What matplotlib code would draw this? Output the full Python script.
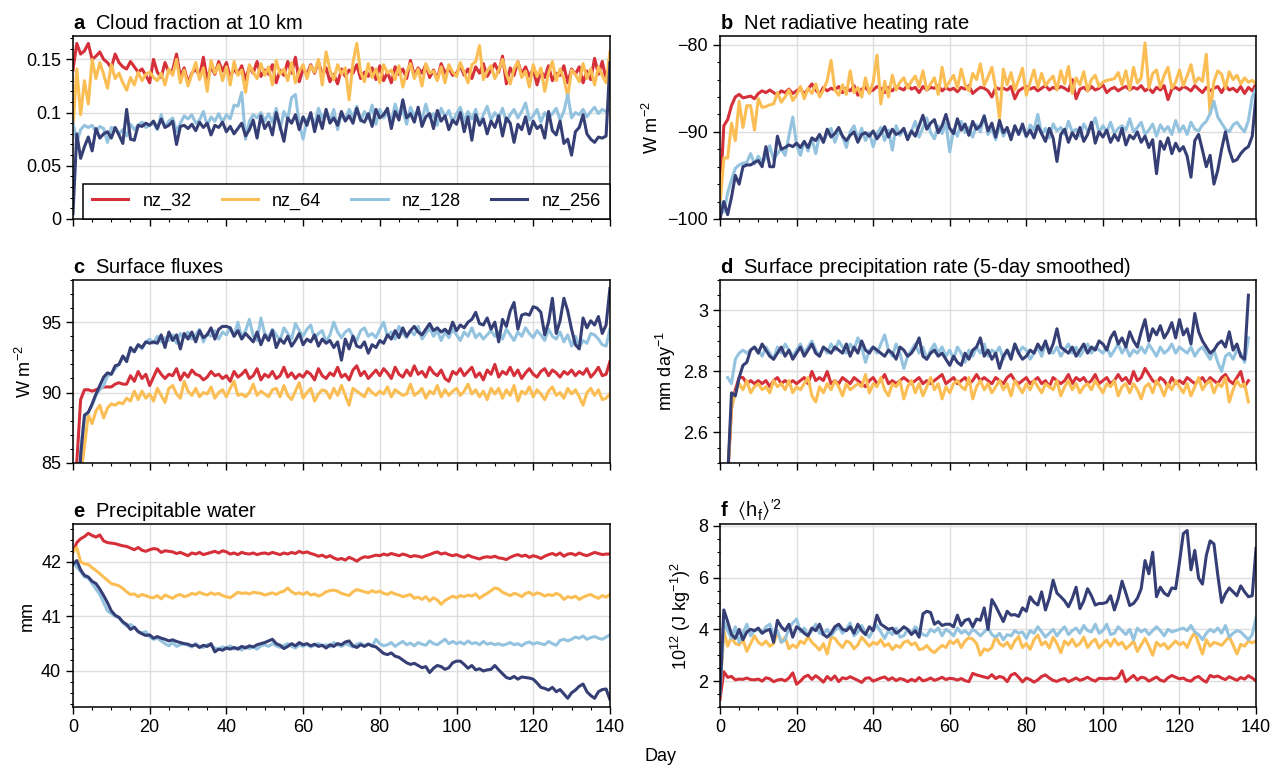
import numpy as np
import matplotlib
matplotlib.use('Agg')
import matplotlib.pyplot as plt
from matplotlib.ticker import MultipleLocator, AutoMinorLocator, FuncFormatter

plt.rcParams['font.family'] = ['Liberation Sans', 'DejaVu Sans']
plt.rcParams['mathtext.fontset'] = 'custom'
plt.rcParams['mathtext.rm'] = 'Liberation Sans'
plt.rcParams['mathtext.it'] = 'Liberation Sans:italic'
plt.rcParams['mathtext.bf'] = 'Liberation Sans:bold'
plt.rcParams['mathtext.fallback'] = 'stixsans'
plt.rcParams['font.size'] = 13

# x axes (days); panel d is a 5-day running mean so it loses two days at each end
days = np.arange(0, 141)
days_smooth = np.arange(2, 139)

labels = ['nz_32', 'nz_64', 'nz_128', 'nz_256']
colors = ['#d5303a', '#fbbe55', '#94c3df', '#353f75']

# a: cloud fraction at 10 km (x 1e-3)
cloud_32 = [140,165,155,158,165,150,153,157,150,147, 142,155,147,143,141,148,143,138,141,135,
            128,150,138,133,147,138,140,155,134,142, 128,137,141,134,152,131,143,136,148,139,
            147,133,141,136,144,131,143,137,148,134, 140,136,145,128,140,135,148,137,152,129,
            141,136,145,137,148,135,142,129,136,127, 141,134,140,137,145,132,138,134,142,131,
            144,130,138,128,143,136,141,132,149,135, 142,137,145,133,140,131,146,137,142,135,
            137,144,135,141,132,143,137,146,134,140, 146,138,153,127,142,135,148,136,143,134,
            141,126,139,133,144,130,137,135,144,128, 141,136,143,128,139,131,151,136,148,131, 141]
cloud_64 = [85,141,98,130,108,150,132,147,136,123, 145,132,137,128,121,133,126,138,130,136,
            138,133,130,137,126,141,135,150,128,140, 125,136,147,131,142,120,149,137,145,130,
            143,126,148,135,140,119,145,138,132,146, 135,143,126,149,136,141,130,147,128,139,
            145,132,144,138,150,126,157,140,131,145, 136,142,112,147,165,138,129,146,133,141,
            128,145,137,140,131,144,124,138,146,132, 141,125,146,137,139,130,143,128,145,138,
            134,147,138,128,145,148,163,131,139,144, 132,140,150,136,127,141,148,133,139,124,
            145,134,142,120,137,148,130,141,132,115, 140,136,129,146,132,141,126,143,135,128, 157]
cloud_128 = [91,72,84,88,86,88,82,87,85,72, 86,85,80,84,78,89,84,88,91,86,
             88,90,84,98,86,92,95,82,90,97, 94,98,90,93,101,88,96,92,99,91,
             98,94,107,106,119,75,92,98,95,100, 92,99,91,104,84,101,94,114,117,89,
             75,93,98,88,104,95,100,92,103,84, 99,93,103,96,106,92,101,94,107,89,
             103,95,100,91,108,96,102,89,105,97, 101,93,108,95,99,88,104,96,102,91,
             99,105,92,101,94,103,89,98,106,93, 100,95,104,91,98,103,95,101,109,93,
             97,103,91,100,95,99,104,93,101,117, 95,100,98,103,96,101,105,99,103,101, 103]
cloud_256 = [5,80,57,68,77,64,85,76,80,82, 76,86,79,71,103,75,74,88,87,90,
             88,92,85,94,86,88,92,70,87,88, 85,89,83,91,86,90,79,88,86,91,
             82,87,80,85,90,78,84,93,76,97, 85,91,79,100,87,73,95,90,98,84,
             96,88,100,82,97,85,103,90,95,88, 101,92,97,90,104,93,91,99,87,103,
             95,98,104,85,101,93,112,95,99,91, 105,87,96,99,85,102,92,97,84,93,
             89,100,82,96,74,98,88,94,80,92, 86,97,78,95,90,72,89,84,96,80,
             92,85,88,76,101,83,79,92,71,75, 60,82,86,98,80,75,72,77,76,78, 147]

# b: net radiative heating rate (x 0.1 W m-2)
rad_32 = [-975,-893,-886,-870,-860,-857,-861,-860,-859,-862, -856,-853,-855,-852,-855,-858,-853,-855,-851,-856,
          -853,-850,-857,-851,-845,-852,-857,-849,-853,-850, -852,-848,-855,-850,-853,-847,-858,-851,-849,-854,
          -852,-848,-850,-855,-849,-853,-848,-850,-852,-846, -851,-849,-855,-848,-852,-849,-850,-847,-853,-849,
          -852,-850,-854,-849,-851,-847,-856,-852,-849,-850, -853,-860,-849,-851,-850,-852,-848,-862,-853,-850,
          -848,-851,-849,-853,-850,-847,-852,-849,-851,-848, -850,-853,-840,-862,-851,-849,-853,-848,-852,-850,
          -846,-855,-851,-849,-853,-850,-848,-852,-849,-851, -847,-853,-850,-855,-849,-852,-847,-863,-851,-849,
          -852,-848,-850,-853,-847,-851,-855,-849,-853,-850, -848,-855,-847,-852,-850,-854,-848,-856,-849,-853, -845]
rad_64 = [-985,-930,-930,-890,-910,-865,-895,-870,-870,-898, -862,-872,-871,-869,-868,-855,-866,-860,-852,-864,
          -858,-848,-862,-850,-856,-845,-860,-852,-841,-818, -852,-858,-846,-857,-830,-855,-849,-860,-838,-856,
          -843,-812,-868,-842,-860,-835,-852,-843,-838,-850, -842,-836,-848,-830,-852,-845,-838,-857,-826,-849,
          -842,-835,-850,-828,-846,-853,-833,-840,-822,-847, -837,-826,-850,-885,-828,-846,-832,-852,-840,-827,
          -858,-843,-829,-849,-833,-847,-841,-836,-852,-830, -845,-825,-856,-838,-846,-831,-853,-840,-835,-848,
          -843,-841,-840,-839,-832,-846,-830,-852,-826,-844, -838,-798,-850,-833,-829,-849,-835,-826,-850,-843,
          -829,-847,-836,-823,-844,-838,-842,-811,-880,-842, -830,-834,-850,-831,-840,-835,-845,-838,-843,-841, -845]
rad_128 = [-980,-992,-970,-955,-942,-938,-936,-935,-925,-937, -928,-935,-930,-916,-932,-925,-919,-927,-905,-883,
           -915,-927,-911,-922,-908,-925,-903,-912,-902,-896, -912,-899,-905,-918,-900,-893,-908,-896,-910,-901,
           -917,-902,-895,-910,-898,-921,-893,-904,-897,-908, -899,-888,-906,-895,-884,-901,-908,-893,-902,-890,
           -923,-897,-905,-888,-901,-895,-906,-892,-900,-881, -903,-896,-909,-891,-905,-897,-907,-894,-902,-895,
           -906,-892,-898,-880,-903,-896,-907,-891,-899,-895, -903,-888,-900,-897,-905,-891,-899,-895,-884,-901,
           -893,-900,-889,-902,-896,-893,-898,-885,-900,-895, -889,-903,-898,-891,-905,-892,-899,-894,-903,-887,
           -900,-893,-903,-889,-897,-899,-892,-888,-879,-865, -883,-890,-897,-900,-892,-889,-895,-900,-887,-860, -850]
rad_256 = [-1000,-980,-995,-975,-950,-960,-940,-938,-938,-935, -933,-940,-917,-940,-940,-905,-920,-918,-915,-917,
           -913,-918,-911,-918,-907,-910,-903,-912,-897,-906, -902,-895,-905,-910,-904,-900,-912,-903,-901,-905,
           -899,-908,-902,-894,-906,-897,-903,-901,-896,-909, -899,-905,-893,-881,-897,-890,-886,-901,-893,-880,
           -896,-902,-885,-898,-891,-904,-888,-897,-893,-882, -899,-890,-906,-887,-901,-895,-909,-893,-903,-891,
           -905,-898,-907,-893,-902,-911,-896,-907,-934,-903, -897,-912,-901,-908,-895,-911,-903,-889,-913,-900,
           -906,-898,-912,-903,-910,-896,-915,-904,-908,-900, -912,-905,-918,-909,-948,-911,-920,-907,-925,-913,
           -922,-917,-928,-952,-910,-903,-921,-940,-927,-960, -944,-920,-900,-921,-934,-932,-925,-920,-917,-905, -858]

# c: surface fluxes (x 0.1 W m-2)
flux_32 = [600,850,895,902,902,901,902,903,904,904, 904,906,907,906,906,912,908,915,910,913,
           905,911,917,913,910,913,912,917,909,914, 911,916,913,912,909,911,915,912,913,910,
           912,908,915,911,913,916,910,912,917,909, 913,911,915,910,912,918,911,914,910,913,
           911,915,913,909,917,912,910,914,912,918, 911,913,909,916,919,912,915,910,913,916,
           912,917,914,910,918,913,911,916,912,919, 913,915,911,918,914,912,916,910,908,915,
           913,917,912,915,918,911,914,909,916,913, 920,911,915,913,918,912,916,910,914,917,
           913,911,915,917,912,916,914,911,915,913, 916,912,915,913,917,911,914,918,912,913, 922]
flux_64 = [600,780,840,862,884,878,887,891,882,889, 892,891,893,892,896,894,901,895,901,896,
           899,894,903,898,893,903,905,899,896,908, 901,898,903,897,900,899,904,896,900,902,
           897,903,908,898,899,897,900,906,898,901, 899,897,902,903,897,905,898,895,901,907,
           896,900,903,894,899,902,901,896,903,898, 905,898,891,903,901,899,897,903,900,898,
           901,899,904,897,902,900,898,899,906,898, 900,903,896,901,899,905,897,902,898,901,
           903,898,901,906,899,902,897,901,895,903, 899,903,896,902,898,905,894,901,899,904,
           897,902,899,895,901,904,898,900,896,903, 899,902,897,891,900,903,898,902,895,896, 899]
flux_128 = [600,800,860,883,886,891,898,902,905,912, 913,917,920,925,924,930,929,934,931,936,
            938,935,940,936,939,937,941,935,942,939, 943,938,941,945,936,942,940,944,938,943,
            941,946,940,950,939,944,952,940,937,953, 942,939,945,941,937,946,942,938,949,944,
            940,945,948,938,942,944,936,941,950,943, 939,943,945,940,937,944,946,940,942,939,
            945,950,940,943,938,947,942,939,944,941, 947,938,942,946,940,944,937,943,939,945,
            941,937,943,940,946,939,942,938,941,944, 940,943,938,945,941,937,943,940,946,942,
            939,944,941,937,945,940,938,943,936,941, 933,940,932,937,935,942,941,938,934,933, 945]
flux_256 = [600,790,855,884,886,892,899,905,911,914, 913,919,920,926,922,932,929,934,932,936,
            935,936,935,941,932,943,937,941,931,942, 938,943,936,944,939,941,946,938,945,947,
            947,946,940,944,938,942,939,936,943,934, 941,937,944,932,938,935,940,933,937,942,
            934,938,936,941,933,938,935,937,932,936, 923,938,931,940,933,932,936,928,934,932,
            937,935,941,938,944,939,946,940,944,947, 943,941,945,949,944,946,943,945,942,950,
            944,948,946,950,952,957,949,948,953,945, 950,936,952,947,958,964,945,955,956,955,
            961,960,957,941,950,967,942,951,967,958, 945,934,931,953,946,951,948,954,942,948, 974]

# d: surface precipitation, 5-day smoothed (x 0.01 mm day-1), days 2..138
prec_32 = [245,268,274,278,278,276,277,276,
           277,276,277,275,277,278,276,277,276,277, 276,277,278,276,280,277,278,277,280,276,
           277,276,278,277,276,278,277,276,275,277, 278,276,277,279,276,277,276,277,278,277,
           276,277,278,276,277,276,277,278,279,276, 277,278,276,277,278,276,277,279,277,278,
           277,276,278,277,276,278,279,277,276,277, 278,276,277,278,276,277,275,278,277,276,
           277,279,276,278,277,278,276,277,279,276, 277,278,276,277,279,277,278,276,280,277,
           278,281,279,277,276,278,277,275,278,276, 277,276,278,277,276,277,278,276,278,277,
           276,278,279,277,276,278,280,275,277]
prec_64 = [245,268,273,276,274,277,273,275,
           276,274,275,273,277,275,276,274,277,273, 275,274,276,278,272,270,275,273,276,274,
           277,275,272,276,274,275,276,275,279,273, 276,275,278,274,272,276,275,277,271,275,
           277,273,276,272,275,278,274,276,271,275, 273,276,277,275,274,278,271,275,277,274,
           276,273,275,277,274,276,272,277,275,273, 276,274,277,275,273,276,275,274,277,272,
           275,277,274,276,273,275,276,274,277,275, 273,276,275,277,272,275,276,273,276,274,
           271,275,276,273,277,275,272,276,274,277, 275,273,276,272,275,278,274,276,277,273,
           276,275,278,270,274,277,275,276,270]
prec_128 = [278,276,284,286,287,286,287,288,
            287,285,288,286,284,288,286,289,287,285, 287,289,286,288,290,287,285,288,286,289,
            287,290,288,286,289,287,291,288,283,287, 288,286,289,292,287,285,289,286,281,285,
            287,289,286,288,284,287,289,286,288,285, 287,284,288,286,283,287,285,288,286,289,
            285,287,286,288,284,287,285,289,286,288, 287,284,286,288,285,289,287,286,288,285,
            287,289,286,288,285,287,289,286,288,287, 286,288,285,287,289,286,288,285,287,286,
            288,286,289,287,285,288,286,287,289,286, 288,287,286,288,285,287,288,286,284,287,
            283,280,285,286,284,287,286,283,291]
prec_256 = [245,273,272,278,282,283,287,288,
            286,289,287,285,284,286,288,285,287,284, 286,288,285,287,289,286,285,288,287,286,
            288,287,286,289,285,288,286,290,287,286, 288,287,286,285,287,286,284,288,287,285,
            286,288,291,285,284,286,287,285,286,284, 282,285,283,282,286,284,287,288,291,285,
            287,284,286,281,285,287,284,289,286,284, 285,287,286,289,287,290,286,289,294,288,
            287,286,288,285,287,289,286,288,287,290, 289,287,291,293,289,291,288,293,290,288,
            293,297,290,294,292,295,291,293,296,291, 297,292,294,289,299,293,290,288,286,287,
            289,290,288,293,287,289,285,284,305]

# e: precipitable water (x 0.01 mm)
pw_32 = [4218,4235,4242,4246,4252,4248,4245,4249,4238,4235, 4234,4233,4231,4229,4228,4225,4222,4226,4221,4219,
         4222,4224,4223,4217,4220,4219,4218,4215,4217,4214, 4211,4216,4214,4217,4213,4215,4217,4219,4216,4220,
         4218,4214,4216,4213,4217,4215,4214,4216,4213,4215, 4216,4214,4217,4215,4213,4216,4214,4217,4215,4219,
         4216,4218,4215,4213,4210,4212,4208,4211,4207,4204, 4206,4203,4208,4205,4201,4206,4209,4208,4210,4212,
         4211,4214,4212,4215,4213,4211,4214,4212,4209,4211, 4210,4208,4211,4213,4216,4218,4214,4216,4213,4211,
         4213,4210,4208,4212,4209,4207,4205,4208,4209,4208, 4210,4207,4206,4204,4208,4211,4213,4210,4212,4208,
         4211,4209,4206,4210,4213,4215,4212,4216,4210,4214, 4215,4212,4216,4213,4211,4214,4217,4215,4213,4214, 4214]
pw_64 = [4218,4226,4200,4196,4195,4189,4184,4178,4172,4166, 4160,4158,4156,4151,4145,4140,4141,4136,4140,4138,
         4135,4134,4138,4132,4139,4136,4133,4138,4140,4136, 4138,4142,4140,4144,4141,4139,4143,4140,4142,4138,
         4136,4134,4139,4144,4142,4143,4141,4144,4143,4142, 4139,4141,4143,4140,4144,4146,4152,4145,4141,4143,
         4140,4144,4139,4141,4137,4140,4145,4147,4148,4146, 4142,4140,4138,4145,4149,4147,4145,4143,4147,4144,
         4146,4142,4140,4144,4141,4139,4136,4138,4140,4133, 4135,4131,4136,4128,4134,4130,4122,4129,4133,4137,
         4134,4138,4136,4139,4137,4141,4133,4138,4142,4147, 4152,4150,4144,4141,4138,4142,4140,4136,4142,4144,
         4139,4143,4141,4137,4140,4138,4142,4139,4131,4136, 4134,4137,4131,4135,4138,4140,4136,4133,4138,4135, 4140]
pw_128 = [4200,4190,4182,4172,4170,4160,4150,4140,4125,4110, 4105,4100,4098,4088,4082,4085,4080,4072,4070,4072,
          4062,4058,4060,4055,4050,4046,4052,4045,4048,4050, 4047,4044,4050,4045,4043,4048,4046,4042,4040,4044,
          4042,4046,4040,4043,4038,4045,4041,4044,4040,4046, 4048,4045,4050,4046,4043,4047,4050,4045,4042,4048,
          4045,4049,4044,4047,4050,4046,4048,4044,4052,4048, 4045,4050,4047,4044,4049,4051,4046,4050,4045,4058,
          4050,4046,4048,4052,4045,4050,4054,4048,4051,4046, 4052,4049,4047,4055,4050,4048,4053,4058,4050,4054,
          4050,4053,4049,4055,4050,4052,4048,4054,4049,4051, 4048,4050,4047,4049,4052,4048,4050,4046,4051,4053,
          4049,4052,4050,4048,4054,4050,4047,4056,4058,4055, 4058,4062,4060,4064,4058,4061,4063,4060,4058,4062, 4066]
pw_256 = [4195,4202,4185,4175,4172,4164,4160,4150,4138,4125, 4110,4102,4098,4090,4085,4076,4080,4072,4068,4065,
          4066,4060,4063,4060,4058,4055,4057,4054,4052,4050, 4049,4046,4048,4043,4047,4045,4050,4035,4040,4038,
          4042,4040,4043,4040,4045,4042,4046,4044,4048,4050, 4052,4055,4058,4050,4047,4041,4045,4050,4046,4052,
          4048,4050,4046,4049,4045,4047,4042,4048,4045,4050, 4048,4053,4055,4046,4043,4048,4045,4049,4046,4044,
          4038,4032,4030,4033,4027,4025,4020,4015,4012,4014, 4010,4006,4008,3997,4005,4010,4008,4003,4006,4015,
          4018,4018,4012,4005,4010,4002,4004,4000,4002,4003, 4010,4002,3995,3988,3986,3990,3985,3989,3988,3987,
          3985,3978,3970,3968,3965,3970,3962,3966,3958,3950, 3960,3965,3972,3976,3962,3955,3950,3962,3966,3967, 3948]

# f: <h_f>'^2 (x 0.01 in 1e12 (J kg-1)^2)
hf_32 = [130,236,215,218,205,208,207,212,206,205, 208,200,213,209,198,204,207,201,212,232,
         188,200,216,223,207,221,210,196,218,205, 220,198,213,209,217,210,203,195,211,213,
         200,206,212,216,205,213,202,210,206,198, 207,200,214,201,205,212,203,208,215,206,
         211,209,204,210,202,198,230,224,220,216, 212,225,210,218,214,198,223,230,215,197,
         212,206,196,205,218,224,212,203,199,206, 210,198,205,212,203,208,215,206,200,211,
         210,209,212,208,214,240,198,210,222,204, 215,212,200,208,216,204,199,213,222,215,
         209,212,203,200,213,218,205,196,222,216, 220,212,206,217,210,203,214,208,221,212, 200]
hf_64 = [150,395,335,370,345,340,360,315,345,375, 350,340,355,335,345,390,350,370,325,340,
         330,355,345,372,350,336,320,345,305,370, 365,345,330,355,348,325,340,370,352,335,
         350,342,360,335,345,322,338,330,350,356, 340,348,322,325,338,320,310,325,338,330,
         355,345,360,330,355,368,362,345,300,325, 318,330,372,345,335,350,326,355,372,330,
         345,323,360,378,340,352,328,370,345,310, 355,340,362,335,345,370,330,350,362,328,
         345,358,335,362,340,350,325,338,355,315, 340,365,335,300,350,335,345,325,340,355,
         340,350,330,365,388,345,305,360,335,350, 345,338,355,372,340,305,342,335,355,348, 355]
hf_128 = [150,430,395,365,410,350,385,420,375,395, 400,385,410,420,375,395,350,360,405,425,
          440,390,405,375,395,420,385,380,400,375, 395,410,385,400,425,375,390,415,385,370,
          400,415,390,365,395,380,405,370,375,400, 385,410,395,380,375,400,390,405,375,400,
          390,375,405,385,395,380,400,390,375,390, 405,380,370,385,360,380,375,395,385,390,
          365,395,385,410,390,370,385,400,375,395, 410,380,395,405,385,415,395,390,420,385,
          395,420,380,385,410,395,380,400,360,405, 390,400,380,395,410,395,375,400,390,395,
          400,405,395,415,390,380,360,385,400,390, 405,385,415,370,385,395,390,375,360,380, 445]
hf_256 = [150,475,430,380,365,400,360,390,400,395, 405,385,395,400,350,435,410,395,420,370,
          410,400,385,375,405,395,420,380,370,385, 410,420,400,395,410,385,420,395,380,410,
          395,455,420,410,400,405,385,395,410,400, 380,395,370,460,470,465,420,430,415,420,
          420,410,455,415,435,440,410,440,435,483, 400,515,490,460,430,470,455,457,450,483,
          470,526,505,494,545,475,520,590,540,526, 510,487,520,563,480,510,557,530,494,500,
          500,505,530,475,520,586,540,492,500,520, 557,666,615,698,526,563,540,530,560,557,
          660,770,782,630,705,598,575,685,742,730, 610,504,538,560,545,530,568,545,526,530, 713]

fig = plt.figure(figsize=(12.8, 7.67), dpi=100)

# axes boxes in figure fractions
col_left = [0.057, 0.5625]
col_width = [0.4195, 0.4188]
row_bottom = [0.7145, 0.3964, 0.0782]
row_height = 0.2386

panels = [
    ('a', 'Cloud fraction at 10 km', '', days, [cloud_32, cloud_64, cloud_128, cloud_256], 1e-3, (0, 0.172), 0.05),
    ('b', 'Net radiative heating rate', r'W m$^{-2}$', days, [rad_32, rad_64, rad_128, rad_256], 0.1, (-100, -79), 10),
    ('c', 'Surface fluxes', r'W m$^{-2}$', days, [flux_32, flux_64, flux_128, flux_256], 0.1, (85, 98), 5),
    ('d', 'Surface precipitation rate (5-day smoothed)', r'mm day$^{-1}$', days_smooth,
     [prec_32, prec_64, prec_128, prec_256], 0.01, (2.5, 3.1), 0.2),
    ('e', 'Precipitable water', 'mm', days, [pw_32, pw_64, pw_128, pw_256], 0.01, (39.34, 42.69), 1),
    ('f', r'$\langle\mathrm{h_f}\rangle^{\prime 2}$', r'10$^{12}$ (J kg$^{-1}$)$^2$', days,
     [hf_32, hf_64, hf_128, hf_256], 0.01, (1.0, 8.07), 2),
]

fmt = FuncFormatter(lambda v, p: ('%g' % v).replace('-', '\u2212'))

for i, (letter, title, ylabel, x, series, scale, ylim, ystep) in enumerate(panels):
    row, col = divmod(i, 2)
    ax = fig.add_axes([col_left[col], row_bottom[row], col_width[col], row_height])
    lines = []
    for vals, c, lab in zip(series, colors, labels):
        ln, = ax.plot(x, np.array(vals) * scale, color=c, lw=2.2, label=lab, solid_joinstyle='round')
        lines.append(ln)

    ax.set_xlim(0, 140)
    ax.set_ylim(*ylim)
    ax.xaxis.set_major_locator(MultipleLocator(20))
    ax.xaxis.set_minor_locator(AutoMinorLocator())
    ax.yaxis.set_major_locator(MultipleLocator(ystep))
    ax.yaxis.set_minor_locator(AutoMinorLocator())
    ax.yaxis.set_major_formatter(fmt)
    ax.tick_params(which='major', direction='out', length=5, width=1, labelsize=13)
    ax.tick_params(which='minor', direction='out', length=2.5, width=0.8)
    if row < 2:
        ax.tick_params(labelbottom=False)
    ax.grid(True, which='major', color='#dedede', lw=1)
    ax.set_axisbelow(True)
    for s in ax.spines.values():
        s.set_linewidth(1.1)

    ax.set_title(r'$\mathbf{%s}$  ' % letter + title, loc='left', fontsize=14.5, pad=5)
    if ylabel:
        ax.set_ylabel(ylabel, fontsize=13, labelpad=4)

    if letter == 'a':
        leg = ax.legend(lines, labels, loc='lower left', bbox_to_anchor=(0.0186, 0, 0.9814, 0.2),
                        mode='expand', ncol=4, fancybox=False, edgecolor='black', framealpha=1,
                        borderaxespad=0, borderpad=0.5, handlelength=2.0, fontsize=13)
        leg.get_frame().set_linewidth(1.1)

fig.text(0.516, 0.0135, 'Day', ha='center', va='center', fontsize=13)

fig.savefig('out.png', dpi=100)
